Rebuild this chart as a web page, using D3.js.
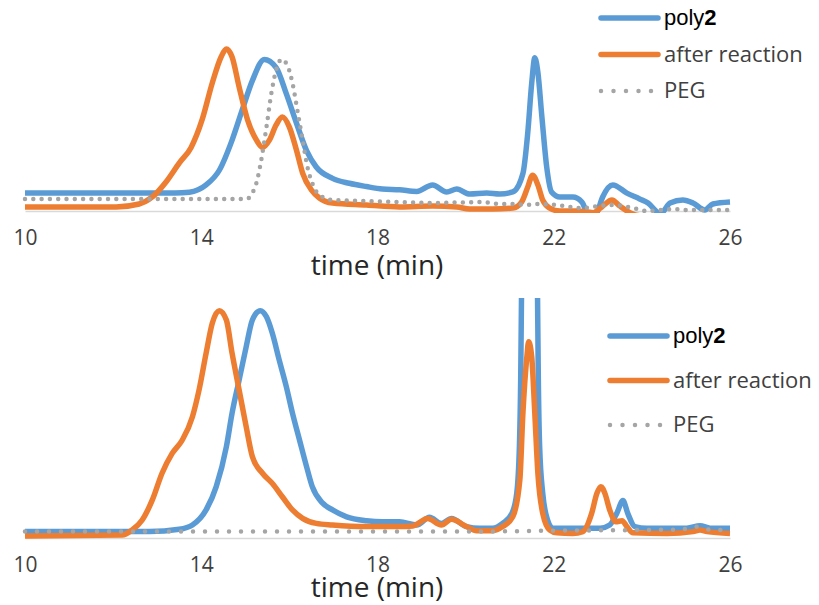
<!DOCTYPE html>
<html>
<head>
<meta charset="utf-8">
<script src="https://cdn.jsdelivr.net/npm/d3@7"></script>
<style>
  body { margin: 0; background: #fff; }
  svg { display: block; }
</style>
</head>
<body>
<div id="chart"></div>
<script>
// x ticks shared by both panels
const timeTicks = [10, 14, 18, 22, 26];
const seriesNames = ["poly", "after reaction", "PEG"];

// top panel, [time (min), intensity]
const topPoly2 = [[10,11],[12,11],[13.4,11],[13.73,11.5],[14.11,16],[14.41,25],[14.7,43.5],[14.93,62],[15.16,80],[15.43,93],
  [15.7,88],[15.93,72],[16.16,54],[16.39,37],[16.61,27],[16.98,20],[17.36,17],[17.75,15],[18.11,13.5],[18.5,13],
  [18.89,12],[19.25,16],[19.57,11.7],[19.8,13.5],[20.09,10.4],[20.48,11],[20.77,10.4],[21.07,11.7],[21.3,23],[21.41,48],
  [21.5,78.5],[21.57,94],[21.64,85],[21.73,58],[21.84,27],[21.95,11.7],[22.14,8.6],[22.43,8.6],[22.64,5.5],[22.75,-1],
  [22.87,-5],[22.98,-1],[23.11,8.6],[23.34,16],[23.66,11],[23.95,7.4],[24.14,4.9],[24.34,-0.5],[24.41,-2],[24.48,-0.5],
  [24.64,4.9],[24.93,6.7],[25.16,4.9],[25.43,0.6],[25.61,4.3],[26,5.5]];
const topAfter = [[10,2.5],[12.07,2.5],[12.59,4.3],[12.89,8.6],[13.2,17.8],[13.5,29.4],[13.77,39],[14.02,56],[14.25,78.5],[14.45,94.5],
  [14.57,99.4],[14.7,94.5],[14.86,76],[15.05,56],[15.25,43.6],[15.39,39],[15.55,43.6],[15.7,52.8],[15.84,57.7],[16,51.5],
  [16.16,37.4],[16.3,23.3],[16.5,12.9],[16.68,8],[16.98,4.9],[17.75,3.7],[18.5,2.5],[19.25,3],[19.8,2.5],[20.09,1.2],
  [20.61,1.2],[21.07,1.8],[21.27,5.5],[21.41,14.7],[21.52,22],[21.64,16],[21.75,6.7],[21.91,1.8],[22.14,0],[22.52,0],
  [22.9,-1],[23.11,3],[23.32,6.7],[23.5,3],[23.73,-1],[24,-3],[26,-3]];
const topPEG = [[10,7.4],[15.02,7.4],[15.16,11],[15.27,19],[15.36,31],[15.48,51.5],[15.59,72],[15.7,86.5],[15.82,93],[15.95,89.6],
  [16.07,78.5],[16.18,62],[16.3,43.6],[16.41,27],[16.52,17],[16.68,9.8],[16.98,6.7],[17.75,6.1],[18.5,5.5],[19.25,4.9],
  [20.39,5.5],[20.77,4.3],[21.14,4.3],[21.36,3.7],[21.66,4.3],[22.27,3],[22.57,1.8],[23.34,3.7],[23.8,1.8],[24.1,0],
  [24.7,1.2],[25,0.6],[26,0.6]];

// bottom panel
const botPoly2 = [[10,2.8],[12.82,2.8],[13.5,3.8],[13.8,5.7],[14.11,12.3],[14.34,22.5],[14.57,40],[14.7,54.8],[14.86,69.3],[15.02,83.9],
  [15.16,95.6],[15.34,99.7],[15.48,97],[15.61,90],[15.77,78],[15.93,66.4],[16.07,54.8],[16.23,43],[16.39,31.3],[16.52,22.5],
  [16.75,15.4],[16.98,12.3],[17.3,9.3],[17.75,7.6],[18.11,7.1],[18.5,7.1],[18.89,5.7],[19.18,9.1],[19.45,6.4],[19.68,8.6],
  [20.02,5],[20.32,4.3],[20.61,4.3],[20.84,6.4],[21.05,10.8],[21.16,19.6],[21.22,40],[21.25,70],[21.27,110],[21.3,170],
  [21.45,230],[21.6,170],[21.63,110],[21.65,70],[21.68,40],[21.75,19.6],[21.86,7.9],[21.98,4.3],[22.43,4.3],[23.05,4.3],
  [23.27,5.7],[23.43,10.8],[23.57,16.4],[23.68,10.8],[23.84,5],[24.11,4.3],[25.02,4.3],[25.32,5.4],[25.55,4.3],[26,4.3]];
const botAfter = [[10,0.9],[12.2,1.3],[12.43,3.5],[12.66,7.9],[12.89,16.7],[13.11,28.4],[13.34,37.1],[13.57,43],[13.8,53.2],[13.95,64.9],
  [14.11,81],[14.25,94.2],[14.41,99.7],[14.57,95.6],[14.7,81],[14.86,64.9],[15.02,48.8],[15.16,35.7],[15.39,28.4],[15.61,24],
  [15.84,18.1],[16.07,12.3],[16.3,8.6],[16.61,6.4],[16.98,5.7],[17.75,5],[18.5,5],[18.8,5.3],[19.14,8.6],[19.45,5.7],
  [19.68,8.2],[20.02,5],[20.25,3.2],[20.61,3.2],[20.84,5],[21.07,9.3],[21.23,25.4],[21.3,54.7],[21.39,79.5],[21.43,86.1],
  [21.5,79.5],[21.57,54.7],[21.64,28.4],[21.75,10.8],[21.91,3.5],[22.07,2.3],[22.43,2],[22.66,2.8],[22.86,10.8],[22.98,19.6],
  [23.07,22.5],[23.16,19.6],[23.27,12.3],[23.41,7.1],[23.55,7.6],[23.66,5],[23.8,2.3],[24.57,2],[25.16,2.8],[25.32,3.5],
  [25.48,2.8],[26,2]];
const botPEG = [[10,2.8],[18,2.8],[20,2.8],[22,3.2],[24,3.5],[24.9,3.7],[25.2,5],[25.5,3.7],[26,3.5]];

const width = 819, height = 605;
const colors = {poly: "#5b9bd5", after: "#ed7d31", peg: "#a5a5a5"};

const svg = d3.select("#chart").append("svg")
  .attr("width", width)
  .attr("height", height);

const x = d3.scaleLinear().domain([10, 26]).range([25, 730]);

function drawPanel(p) {
  const y = d3.scaleLinear().domain([0, 100]).range([p.base, p.top100]);
  const g = svg.append("g");

  // clip so the traces stop at the baseline and the panel top
  g.append("clipPath").attr("id", p.id)
    .append("rect")
      .attr("x", 0).attr("y", p.clipTop)
      .attr("width", width).attr("height", p.base + 2 - p.clipTop);

  // axis
  const axis = g.append("g")
    .attr("transform", `translate(0,${p.base})`)
    .call(d3.axisBottom(x).tickValues(timeTicks).tickSize(0).tickPadding(19).tickFormat(d3.format("d")));
  axis.select(".domain").attr("stroke", "#d9d9d9").attr("stroke-width", 1.5);
  axis.selectAll("text")
    .attr("font-family", "'Open Sans', sans-serif")
    .attr("font-size", 21)
    .attr("fill", "#404040");

  g.append("text")
    .attr("x", 377).attr("y", p.base + p.titleDy)
    .attr("text-anchor", "middle")
    .attr("font-family", "'Open Sans', sans-serif")
    .attr("font-size", 28)
    .attr("fill", "#262626")
    .text("time (min)");

  const line = d3.line()
    .x(d => x(d[0]))
    .y(d => y(d[1]))
    .curve(d3.curveMonotoneX);

  const plot = g.append("g").attr("clip-path", `url(#${p.id})`);
  plot.append("path").datum(p.poly)
    .attr("fill", "none").attr("stroke", colors.poly).attr("stroke-width", 5.5)
    .attr("stroke-linejoin", "round").attr("d", line);
  plot.append("path").datum(p.after)
    .attr("fill", "none").attr("stroke", colors.after).attr("stroke-width", 5.5)
    .attr("stroke-linejoin", "round").attr("d", line);
  plot.append("path").datum(p.peg)
    .attr("fill", "none").attr("stroke", colors.peg).attr("stroke-width", 4.5)
    .attr("stroke-linecap", "round").attr("stroke-dasharray", `0 ${p.dotGap}`)
    .attr("d", line);

  // legend
  const lg = g.append("g").attr("transform", `translate(${p.legX},${p.legY})`);
  const rows = [
    {key: "poly", color: colors.poly, dash: null},
    {key: "after", color: colors.after, dash: null},
    {key: "peg", color: colors.peg, dash: "0 12.5"}
  ];
  rows.forEach((r, i) => {
    const yy = i * p.legStep;
    lg.append("line")
      .attr("x1", 0).attr("x2", 57).attr("y1", yy).attr("y2", yy)
      .attr("stroke", r.color)
      .attr("stroke-width", r.dash ? 4.5 : 5.5)
      .attr("stroke-linecap", "round")
      .attr("stroke-dasharray", r.dash);
    if (r.key === "poly") {
      const t = lg.append("text")
        .attr("x", 63).attr("y", yy + 7)
        .attr("font-family", "'Liberation Sans', Arial, sans-serif")
        .attr("font-size", 22)
        .attr("fill", "#000");
      t.append("tspan").text(seriesNames[0]);
      t.append("tspan").attr("font-weight", "bold").text("2");
    } else {
      lg.append("text")
        .attr("x", 63).attr("y", yy + 7)
        .attr("font-family", "'Open Sans', sans-serif")
        .attr("font-size", 22)
        .attr("fill", "#404040")
        .text(r.key === "after" ? seriesNames[1] : seriesNames[2]);
    }
  });
}

drawPanel({id: "clipTop", base: 211, top100: 48, clipTop: 0, titleDy: 64, dotGap: 8.3,
  poly: topPoly2, after: topAfter, peg: topPEG, legX: 601, legY: 18, legStep: 36.5});
drawPanel({id: "clipBot", base: 538, top100: 310, clipTop: 298, titleDy: 59, dotGap: 12,
  poly: botPoly2, after: botAfter, peg: botPEG, legX: 610, legY: 336, legStep: 44.5});
</script>
</body>
</html>
